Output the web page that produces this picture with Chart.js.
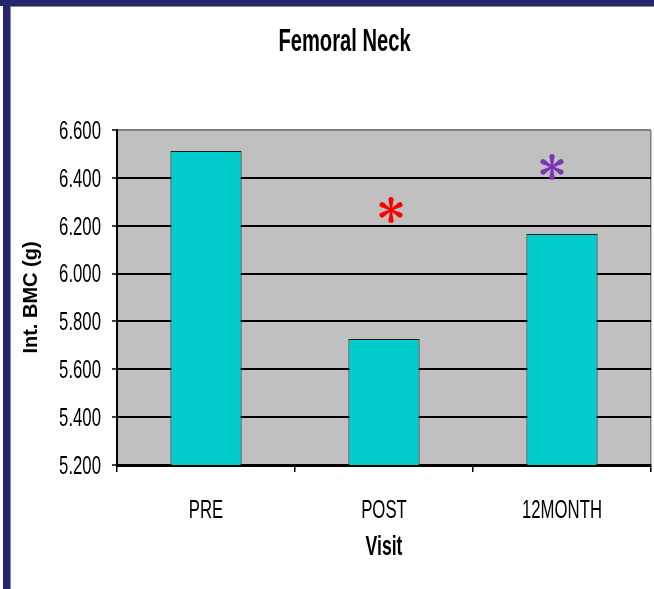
<!DOCTYPE html>
<html>
<head>
<meta charset="utf-8">
<script src="https://cdn.jsdelivr.net/npm/chart.js@4/dist/chart.umd.min.js"></script>
<style>
html,body{margin:0;padding:0;background:#fff;}
#wrap{position:relative;width:654px;height:589px;overflow:hidden;background:#fff;}
#c{position:absolute;left:0;top:0;}
.f{position:absolute;}
</style>
</head>
<body>
<div id="wrap">
<canvas id="c" width="654" height="589"></canvas>
<div class="f" style="left:0;top:0;width:654px;height:6px;background:#26266f;"></div>
<div class="f" style="left:3px;top:0;width:7px;height:589px;background:#26266f;"></div>
<div class="f" style="left:10px;top:6px;width:644px;height:1px;background:#8c8c8c;"></div>
<div class="f" style="left:10px;top:6px;width:1px;height:583px;background:#8c8c8c;"></div>
</div>
<script>
// ---- data ----
const categories = ['PRE', 'POST', '12MONTH'];
const bmcValues = [6.512, 5.727, 6.165];
const yTickValues = [5.2, 5.4, 5.6, 5.8, 6.0, 6.2, 6.4, 6.6];
const asteriskValues = [null, 6.266, 6.446];

// ---- styles ----
const FONT = "'Liberation Sans', Arial, sans-serif";
const S_NORMAL = 0.67, S_BOLD = 0.63;
const asteriskColors = [null, '#ff0000', '#7a36b4'];
const asteriskShift = [0, 7, -10];

const condense = {
  id: 'condense',
  beforeInit(chart) {
    const ctx = chart.ctx;
    const orig = ctx.fillText.bind(ctx);
    ctx.fillText = function (text, x, y, maxWidth) {
      const t = ctx.getTransform();
      if (Math.abs(t.b) > 1e-6 || Math.abs(t.c) > 1e-6) {
        return orig(text, x, y);
      }
      const s = /bold/.test(ctx.font) ? S_BOLD : S_NORMAL;
      ctx.save();
      ctx.translate(x, y);
      ctx.scale(s, 1);
      orig(text, 0, 0);
      ctx.restore();
    };
  }
};

const plotBg = {
  id: 'plotBg',
  beforeDraw(chart) {
    const { ctx, chartArea: a } = chart;
    ctx.save();
    ctx.fillStyle = '#c0c0c0';
    ctx.fillRect(a.left, a.top, a.right - a.left, a.bottom - a.top);
    ctx.restore();
  }
};

function drawAsterisk(ctx, cx, cy, color) {
  ctx.save();
  ctx.fillStyle = color;
  ctx.translate(cx, cy);
  for (let k = 0; k < 6; k++) {
    ctx.save();
    ctx.rotate(-Math.PI / 2 + k * Math.PI / 3);
    ctx.beginPath();
    ctx.moveTo(0, -0.9);
    ctx.lineTo(9.2, -2.3);
    ctx.lineTo(9.2, 2.3);
    ctx.lineTo(0, 0.9);
    ctx.closePath();
    ctx.fill();
    ctx.beginPath();
    ctx.arc(10.3, 0, 2.6, 0, Math.PI * 2);
    ctx.fill();
    ctx.restore();
  }
  ctx.restore();
}

const asterisks = {
  id: 'asterisks',
  afterDatasetsDraw(chart) {
    const x = chart.scales.x, y = chart.scales.y;
    asteriskValues.forEach((v, i) => {
      if (v == null) return;
      drawAsterisk(chart.ctx, x.getPixelForValue(i) + asteriskShift[i], y.getPixelForValue(v), asteriskColors[i]);
    });
  }
};

new Chart(document.getElementById('c'), {
  type: 'bar',
  data: {
    labels: categories,
    datasets: [{
      data: bmcValues,
      backgroundColor: '#00cccc',
      borderColor: '#1a1a1a',
      borderWidth: 1,
      barPercentage: 0.4,
      categoryPercentage: 1.0
    }]
  },
  options: {
    responsive: false,
    devicePixelRatio: 1,
    animation: false,
    events: [],
    layout: { padding: { left: 38, right: 3, top: 0, bottom: 0 } },
    plugins: {
      legend: { display: false },
      tooltip: { enabled: false },
      title: {
        display: true,
        text: 'Femoral Neck',
        color: '#000',
        font: { family: FONT, size: 32, weight: 'bold' },
        padding: { top: 23, bottom: 68.6 }
      }
    },
    scales: {
      x: {
        grid: {
          offset: true,
          color: c => (c.type === 'scale' ? '#808080' : 'rgba(0,0,0,0)'),
          lineWidth: 1.5,
          tickLength: 7,
          tickColor: '#000',
          tickWidth: 1.5
        },
        border: { color: '#000', width: 3 },
        ticks: {
          color: '#000',
          font: { family: FONT, size: 25 },
          padding: 24,
          maxRotation: 0,
          autoSkip: false
        },
        title: {
          display: true,
          text: 'Visit',
          color: '#000',
          font: { family: FONT, size: 28, weight: 'bold' },
          padding: { top: 0, bottom: 25 }
        },
        afterFit(scale) { scale.height = 124; }
      },
      y: {
        min: 5.2,
        max: 6.6,
        afterBuildTicks(scale) { scale.ticks = yTickValues.map(v => ({ value: v })); },
        ticks: {
          color: '#000',
          font: { family: FONT, size: 25 },
          padding: 11,
          labelOffset: 2,
          callback: v => Number(v).toFixed(3)
        },
        grid: {
          color: c => (c.tick && Math.abs(c.tick.value - 6.6) < 1e-9 ? '#808080' : '#000'),
          lineWidth: 2,
          tickLength: 5,
          tickColor: '#000',
          tickWidth: 1.5
        },
        border: { color: '#000', width: 2 },
        title: {
          display: true,
          text: 'Int. BMC (g)',
          color: '#000',
          font: { family: FONT, size: 20, weight: 'bold' },
          padding: { top: -19, bottom: 0 }
        },
        afterFit(scale) { scale.width = 79; }
      }
    }
  },
  plugins: [condense, plotBg, asterisks]
});
</script>
</body>
</html>
